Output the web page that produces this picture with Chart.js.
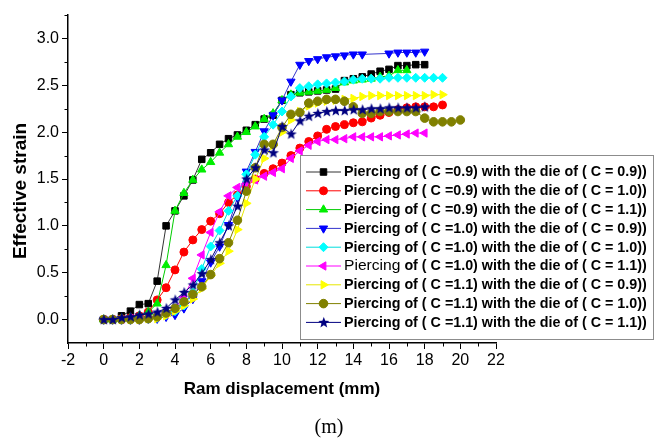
<!DOCTYPE html>
<html>
<head>
<meta charset="utf-8">
<script src="https://cdn.jsdelivr.net/npm/chart.js@4.4.1/dist/chart.umd.min.js"></script>
<style>
  html, body { margin: 0; padding: 0; background: #fff; }
  canvas { display: block; }
</style>
</head>
<body>
<canvas id="strain" width="658" height="445"></canvas>
<script>
// ram displacement (mm), every 0.5 mm
const displacement = [0, 0.5, 1, 1.5, 2, 2.5, 3, 3.5, 4, 4.5, 5, 5.5, 6, 6.5, 7, 7.5, 8, 8.5, 9, 9.5,
  10, 10.5, 11, 11.5, 12, 12.5, 13, 13.5, 14, 14.5, 15, 15.5, 16, 16.5, 17, 17.5, 18, 18.5, 19, 19.5, 20];

// effective strain for each punch / die combination
const c09die09 = [0, 0, 0.04, 0.09, 0.16, 0.17, 0.41, 1.0, 1.16, 1.32, 1.49, 1.71, 1.78, 1.87, 1.93, 1.97, 2.02, 2.08, 2.14, 2.18,
  2.34, 2.40, 2.42, 2.43, 2.44, 2.45, 2.46, 2.55, 2.57, 2.59, 2.62, 2.65, 2.67, 2.71, 2.71, 2.72, 2.72];
const c09die10 = [0, 0, 0.01, 0.02, 0.04, 0.08, 0.21, 0.34, 0.53, 0.72, 0.85, 0.96, 1.05, 1.13, 1.25, 1.33, 1.42, 1.5, 1.56, 1.61,
  1.67, 1.75, 1.83, 1.9, 1.96, 2.03, 2.06, 2.08, 2.1, 2.11, 2.15, 2.18, 2.21, 2.24, 2.26, 2.27, 2.27, 2.27, 2.29];
const c09die11 = [0, 0, 0.01, 0.02, 0.04, 0.08, 0.17, 0.58, 1.16, 1.35, 1.49, 1.6, 1.68, 1.78, 1.87, 1.95, 2.0, 2.06, 2.14, 2.2,
  2.34, 2.4, 2.42, 2.43, 2.44, 2.45, 2.47, 2.53, 2.55, 2.56, 2.57, 2.59, 2.6, 2.66, 2.66];
const c10die09 = [0, 0, 0, 0, 0, 0.01, 0.01, 0.03, 0.05, 0.12, 0.22, 0.41, 0.61, 0.78, 1.01, 1.3, 1.58, 1.79, 2.01, 2.18,
  2.34, 2.54, 2.72, 2.76, 2.78, 2.8, 2.81, 2.82, 2.83, 2.83, null, null, 2.84, 2.85, 2.85, 2.85, 2.86];
const c10die10 = [0, 0, 0, 0, 0.01, 0.01, 0.02, 0.05, 0.09, 0.15, 0.29, 0.54, 0.78, 0.95, 1.16, 1.32, 1.55, 1.76, 1.95, 2.08,
  2.22, 2.38, 2.47, 2.49, 2.51, 2.52, 2.53, 2.54, 2.56, 2.57, 2.57, 2.57, 2.58, 2.58, 2.58, 2.58, 2.58, 2.58, 2.58];
const c10die11 = [0, 0, 0, 0.01, 0.01, 0.02, 0.03, 0.06, 0.12, 0.24, 0.44, 0.69, 0.93, 1.15, 1.32, 1.41, 1.45, 1.49, 1.53, 1.57,
  1.61, 1.72, 1.8, 1.86, 1.9, 1.92, 1.92, 1.93, 1.95, 1.95, 1.95, 1.95, 1.96, 1.97, 1.98, 1.99, 1.99];
const c11die09 = [0, 0, 0, 0, 0, 0.01, 0.01, 0.04, 0.09, 0.15, 0.22, 0.33, 0.47, 0.6, 0.73, 0.96, 1.24, 1.5, 1.72, 1.86,
  2.0, 2.13, 2.22, 2.28, 2.31, 2.33, 2.34, 2.35, 2.36, 2.38, 2.39, 2.39, 2.39, 2.39, 2.39, 2.39, 2.39, 2.4, 2.4];
const c11die10 = [0, 0, 0, 0, 0, 0.01, 0.03, 0.07, 0.12, 0.19, 0.27, 0.35, 0.48, 0.65, 0.82, 1.06, 1.37, 1.62, 1.87, 1.87,
  2.05, 2.19, 2.21, 2.31, 2.33, 2.35, 2.35, 2.33, 2.27, 2.2, 2.2, 2.22, 2.22, 2.22, 2.22, 2.22, 2.15, 2.11, 2.11, 2.11, 2.13];
const c11die11 = [0, 0, 0.02, 0.03, 0.05, 0.06, 0.08, 0.12, 0.21, 0.29, 0.37, 0.49, 0.64, 0.82, 1.0, 1.21, 1.5, 1.62, 1.81, 1.78,
  2.06, 1.98, 2.12, 2.17, 2.2, 2.22, 2.23, 2.23, 2.24, 2.24, 2.25, 2.25, 2.26, 2.26, 2.26, 2.26, 2.27];

const seriesNames = [
  'Piercing of ( C =0.9) with the die of ( C = 0.9))',
  'Piercing of ( C =0.9) with the die of ( C = 1.0))',
  'Piercing of ( C =0.9) with the die of ( C = 1.1))',
  'Piercing of ( C =1.0) with the die of ( C = 0.9))',
  'Piercing of ( C =1.0) with the die of ( C = 1.0))',
  'Piercing of ( C =1.0) with the die of ( C = 1.1))',
  'Piercing of ( C =1.1) with the die of ( C = 0.9))',
  'Piercing of ( C =1.1) with the die of ( C = 1.0))',
  'Piercing of ( C =1.1) with the die of ( C = 1.1))'
];
const xTicks = [-2, 0, 2, 4, 6, 8, 10, 12, 14, 16, 18, 20, 22];
const yTicks = [0, 0.5, 1.0, 1.5, 2.0, 2.5, 3.0];

const sans = '"Liberation Sans", Arial, sans-serif';

// filled five point star marker
function starMarker(color, r) {
  const c = document.createElement('canvas');
  c.width = c.height = r * 2 + 2;
  const g = c.getContext('2d');
  g.fillStyle = color;
  g.beginPath();
  for (let k = 0; k < 10; k++) {
    const rr = k % 2 ? r * 0.42 : r;
    const a = -Math.PI / 2 + k * Math.PI / 5;
    g.lineTo(r + 1 + rr * Math.cos(a), r + 1 + rr * Math.sin(a));
  }
  g.closePath();
  g.fill();
  return c;
}

const styles = [
  { color: '#000000', line: '#333333', pointStyle: 'rect', rotation: 0, radius: 4.6 },
  { color: '#ff0000', line: '#ff0000', pointStyle: 'circle', rotation: 0, radius: 4 },
  { color: '#00ee00', line: '#00cc00', pointStyle: 'triangle', rotation: 0, radius: 4.8 },
  { color: '#0000ff', line: '#3333cc', pointStyle: 'triangle', rotation: 180, radius: 4.8 },
  { color: '#00ffff', line: '#00dddd', pointStyle: 'rectRot', rotation: 0, radius: 4.5 },
  { color: '#ff00ff', line: '#ff00ff', pointStyle: 'triangle', rotation: 270, radius: 4.8 },
  { color: '#ffff00', line: '#e6e600', pointStyle: 'triangle', rotation: 90, radius: 4.8 },
  { color: '#808000', line: '#808000', pointStyle: 'circle', rotation: 0, radius: 4.3 },
  { color: '#000080', line: '#000080', pointStyle: starMarker('#000080', 5.8), rotation: 0, radius: 5 }
];

const allSeries = [c09die09, c09die10, c09die11, c10die09, c10die10, c10die11, c11die09, c11die10, c11die11];

const datasets = allSeries.map((vals, i) => ({
  label: seriesNames[i],
  data: vals.map((v, j) => ({ x: displacement[j], y: v })),
  borderColor: styles[i].line,
  backgroundColor: styles[i].color,
  pointBackgroundColor: styles[i].color,
  pointBorderColor: styles[i].color,
  pointBorderWidth: 1,
  pointStyle: styles[i].pointStyle,
  pointRotation: styles[i].rotation,
  pointRadius: styles[i].radius,
  borderWidth: 1,
  tension: 0,
  spanGaps: true,
  order: allSeries.length - i
}));

// short minor ticks halfway between the labelled ones
const minorTicks = {
  id: 'minorTicks',
  afterDraw(chart) {
    const ctx = chart.ctx;
    const xs = chart.scales.x, ys = chart.scales.y;
    ctx.save();
    ctx.strokeStyle = '#000';
    ctx.lineWidth = 1;
    ctx.beginPath();
    for (let i = 0; i < xTicks.length - 1; i++) {
      const px = Math.round(xs.getPixelForValue((xTicks[i] + xTicks[i + 1]) / 2)) + 0.5;
      ctx.moveTo(px, xs.top);
      ctx.lineTo(px, xs.top + 3.5);
    }
    for (let i = 0; i < yTicks.length; i++) {
      const py = Math.round(ys.getPixelForValue(yTicks[i] + 0.25)) + 0.5;
      ctx.moveTo(ys.right, py);
      ctx.lineTo(ys.right - 3.5, py);
    }
    ctx.stroke();
    ctx.restore();
  }
};

// boxed legend with line + marker samples, y title and the caption
const boxLegend = {
  id: 'boxLegend',
  afterDraw(chart) {
    const ctx = chart.ctx;
    ctx.save();
    ctx.fillStyle = '#fff';
    ctx.fillRect(300, 155, 353, 184);
    ctx.strokeStyle = '#8c8c8c';
    ctx.lineWidth = 1;
    ctx.strokeRect(300.5, 155.5, 353, 184);
    const bold = 'bold 14.3px ' + sans;
    const regular = '14.3px ' + sans;
    chart.data.datasets.forEach((ds, i) => {
      const y = 172 + i * 18.8;
      ctx.strokeStyle = ds.borderColor;
      ctx.lineWidth = 1;
      ctx.beginPath();
      ctx.moveTo(306, y);
      ctx.lineTo(341, y);
      ctx.stroke();
      ctx.fillStyle = ds.pointBackgroundColor;
      ctx.strokeStyle = ds.pointBorderColor;
      Chart.helpers.drawPoint(ctx, {
        pointStyle: ds.pointStyle,
        rotation: ds.pointRotation,
        radius: ds.pointRadius,
        borderWidth: 1
      }, 323.5, y);
      ctx.fillStyle = '#000';
      ctx.textBaseline = 'middle';
      ctx.textAlign = 'left';
      if (i === 5) {
        // this entry has its first word in regular weight, same width
        const first = 'Piercing';
        ctx.font = bold;
        const wb = ctx.measureText(first).width;
        ctx.font = regular;
        const wr = ctx.measureText(first).width;
        ctx.save();
        ctx.translate(344, y + 0.5);
        ctx.scale(wb / wr, 1);
        ctx.fillText(first, 0, 0);
        ctx.restore();
        ctx.font = bold;
        ctx.fillText(ds.label.slice(first.length), 344 + wb, y + 0.5);
      } else {
        ctx.font = bold;
        ctx.fillText(ds.label, 344, y + 0.5);
      }
    });

    ctx.save();
    ctx.translate(21, 191);
    ctx.rotate(-Math.PI / 2);
    ctx.font = 'bold 19px ' + sans;
    ctx.textAlign = 'center';
    ctx.textBaseline = 'middle';
    ctx.fillText('Effective strain', 0, 0);
    ctx.restore();

    ctx.font = '20px "Liberation Serif", "Times New Roman", serif';
    ctx.textAlign = 'center';
    ctx.textBaseline = 'middle';
    ctx.fillStyle = '#000';
    ctx.fillText('(m)', chart.width / 2, 428);
    ctx.restore();
  }
};

new Chart(document.getElementById('strain').getContext('2d'), {
  type: 'line',
  data: { datasets: datasets },
  options: {
    responsive: false,
    animation: false,
    devicePixelRatio: 1,
    layout: { padding: { left: 0, right: 162, top: 15, bottom: 40 } },
    plugins: {
      legend: { display: false },
      tooltip: { enabled: false }
    },
    scales: {
      x: {
        type: 'linear',
        min: -2,
        max: 22,
        afterBuildTicks: (scale) => { scale.ticks = xTicks.map(v => ({ value: v })); },
        afterFit: (scale) => { scale.height = 62; },
        grid: { drawOnChartArea: false, tickLength: 6, color: '#000', lineWidth: 1 },
        border: { color: '#000', width: 1.5 },
        ticks: {
          color: '#000',
          padding: 2,
          maxRotation: 0,
          font: { family: sans, size: 16 },
          callback: (v) => String(v)
        },
        title: {
          display: true,
          text: 'Ram displacement (mm)',
          color: '#000',
          font: { family: sans, size: 17, weight: 'bold' },
          padding: { top: 0, bottom: 5 }
        }
      },
      y: {
        type: 'linear',
        min: -0.25,
        max: 3.25,
        afterBuildTicks: (scale) => { scale.ticks = yTicks.map(v => ({ value: v })); },
        afterFit: (scale) => { scale.width = 68; },
        grid: { drawOnChartArea: false, tickLength: 6, color: '#000', lineWidth: 1 },
        border: { color: '#000', width: 1.5 },
        ticks: {
          color: '#000',
          padding: 3,
          font: { family: sans, size: 16 },
          callback: (v) => v.toFixed(1)
        }
      }
    }
  },
  plugins: [minorTicks, boxLegend]
});
</script>
</body>
</html>
